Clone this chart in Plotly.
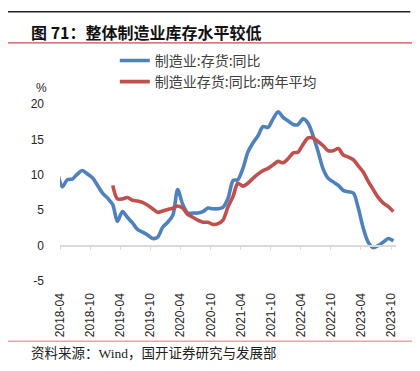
import pandas as pd
import plotly.graph_objects as go

# ---- data (monthly, 2018-03 .. 2023-10) ----
months = pd.date_range("2018-03-01", "2023-10-01", freq="MS")
inv_yoy = [10.5, 8.3, 9.3, 9.4, 10.1, 10.6, 10.1, 9.6, 8.5, 7.4, 6.7, 5.8,
           3.4, 4.8, 4.0, 3.2, 2.3, 1.9, 1.5, 1.0, 1.2, 2.6, 3.3, 4.3,
           7.9, 5.8, 4.6, 4.6, 4.6, 4.8, 5.3, 5.2, 5.2, 5.4, 6.7, 9.2,
           9.3, 10.9, 13.2, 14.5, 15.5, 16.8, 16.7, 17.9, 18.9, 18.1, 17.6, 17.1,
           17.1, 17.9, 17.3, 15.5, 13.3, 10.8, 9.5, 9.0, 8.5, 7.8, 7.6, 7.4,
           5.4, 2.5, 0.5, -0.3, 0.0, 0.5, 1.0, 0.65]
inv_2y = [None] * 11 + [8.5, 6.6, 6.6, 6.8, 6.4, 6.3, 6.1, 5.7, 5.2, 4.7, 4.9,
          5.1, 5.3, 5.6, 5.3, 4.4, 4.0, 3.6, 3.3, 3.3, 3.0, 3.1, 3.6,
          5.5, 7.0, 8.8, 8.4, 8.8, 9.5, 10.1, 10.6, 10.9, 11.4, 11.9, 11.7,
          12.3, 13.1, 13.2, 14.3, 15.2, 15.2, 14.7, 14.1, 13.4, 13.4, 13.7, 12.8,
          12.5, 12.1, 11.3, 10.4, 9.1, 7.9, 6.8, 6.0, 5.5, 4.8]
series_names = ["制造业:存货:同比", "制造业存货:同比:两年平均"]
tick_dates = ["2018-04-01", "2018-10-01", "2019-04-01", "2019-10-01", "2020-04-01", "2020-10-01",
              "2021-04-01", "2021-10-01", "2022-04-01", "2022-10-01", "2023-04-01", "2023-10-01"]
tick_labels = ["2018-04", "2018-10", "2019-04", "2019-10", "2020-04", "2020-10",
               "2021-04", "2021-10", "2022-04", "2022-10", "2023-04", "2023-10"]
y_ticks = [-5, 0, 5, 10, 15, 20]
y_tick_labels = ["-5", "0", "5", "10", "15", "20"]

x_dates = months + pd.Timedelta(days=14)

W, H = 420, 371
L, R, T, B = 52.3, 387.7, 96.0, 272.6


def px_x(p):
    return (p - L) / (R - L)


def px_y(p):
    return (B - p) / (B - T)


fig = go.Figure()
fig.add_trace(go.Scatter(x=x_dates, y=inv_yoy, name=series_names[0], mode="lines",
                         line=dict(color="#4F81BD", width=3.6, shape="spline", smoothing=0.8)))
fig.add_trace(go.Scatter(x=x_dates, y=inv_2y, name=series_names[1], mode="lines",
                         line=dict(color="#C0504D", width=3.6, shape="spline", smoothing=0.8)))

fig.update_layout(
    width=W, height=H,
    margin=dict(l=L, r=W - R, t=T, b=H - B, pad=0, autoexpand=False),
    paper_bgcolor="white", plot_bgcolor="white",
    font=dict(family="Liberation Sans, Noto Sans CJK SC", size=12, color="#262626"),
    showlegend=True,
    legend=dict(x=px_x(107), y=px_y(37), xanchor="left", yanchor="top",
                bgcolor="rgba(0,0,0,0)", itemwidth=30, tracegroupgap=0,
                font=dict(family="Noto Sans CJK SC", size=14, color="#404040")),
    xaxis=dict(type="date", range=["2018-04-01", "2023-10-31"],
               tickmode="array", tickvals=tick_dates, ticktext=tick_labels,
               tickangle=-90, anchor="free", position=0.2,
               showline=True, linecolor="#D9D9D9", linewidth=1.5,
               ticks="outside", ticklen=4, tickcolor="#D9D9D9", tickwidth=1.2,
               ticklabelstandoff=38, showgrid=False, zeroline=False,
               tickfont=dict(size=12, color="#262626")),
    yaxis=dict(range=[-5, 20], tickmode="array", tickvals=y_ticks, ticktext=y_tick_labels,
               showgrid=False, zeroline=False, showline=False, ticks="",
               ticklabelstandoff=15, tickfont=dict(size=12, color="#262626")),
)

# decorative rules
fig.add_shape(type="line", xref="paper", yref="paper", x0=px_x(0), x1=px_x(402),
              y0=px_y(4), y1=px_y(4), line=dict(color="#222222", width=1.5))
fig.add_shape(type="line", xref="paper", yref="paper", x0=px_x(0), x1=px_x(406),
              y0=px_y(35), y1=px_y(35), line=dict(color="#D0484A", width=1.2))
fig.add_shape(type="line", xref="paper", yref="paper", x0=px_x(0), x1=px_x(406),
              y0=px_y(332.7), y1=px_y(332.7), line=dict(color="#E8A3A3", width=1.5))

fig.add_annotation(text="<b>图 71：整体制造业库存水平较低</b>", xref="paper", yref="paper",
                   x=px_x(21), y=px_y(24), xanchor="left", yanchor="middle", showarrow=False,
                   font=dict(family="Noto Sans CJK SC", size=16, color="#111111"))
fig.add_annotation(text="%", xref="paper", yref="paper", x=px_x(34), y=px_y(80),
                   xanchor="center", yanchor="middle", showarrow=False,
                   font=dict(family="Liberation Sans", size=12, color="#262626"))
fig.add_annotation(text="资料来源：Wind，国开证券研究与发展部", xref="paper", yref="paper",
                   x=px_x(21), y=px_y(345), xanchor="left", yanchor="middle", showarrow=False,
                   font=dict(family="Liberation Serif, Noto Sans CJK SC", size=13.5, color="#222222"))

fig.write_html("out.html")
